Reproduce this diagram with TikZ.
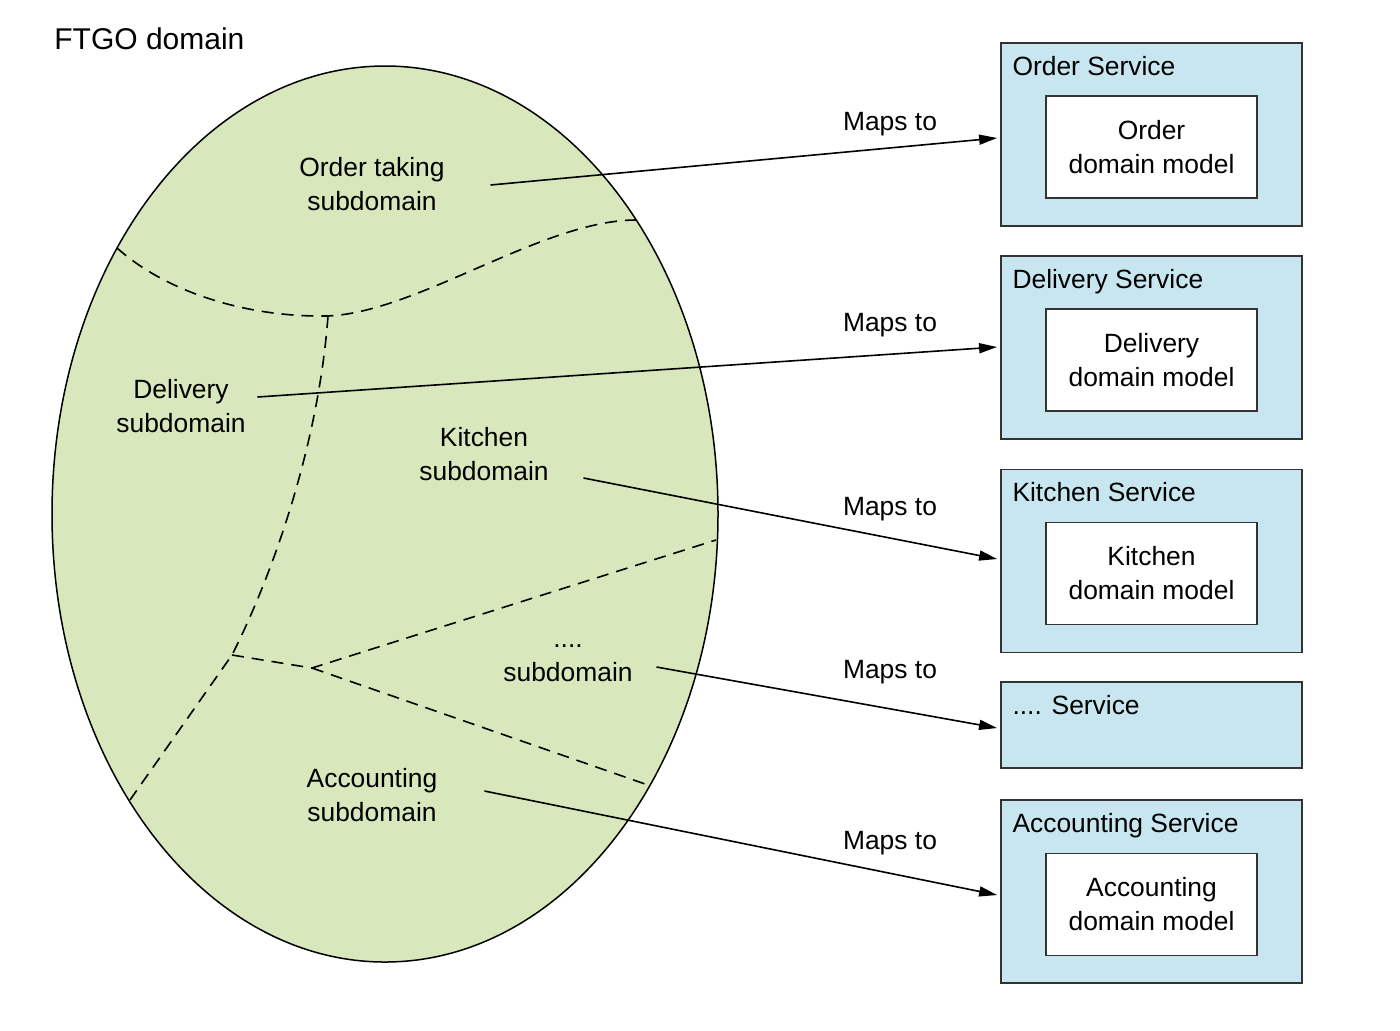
\documentclass[tikz,border=0pt]{standalone}
\usepackage{fontspec}
\setmainfont{Liberation Sans}
\usepackage{xcolor}
\usepackage{tikz}
\usetikzlibrary{shapes.geometric, arrows.meta, positioning}

\definecolor{domaingreen}{RGB}{217,231,188}
\definecolor{serviceblue}{RGB}{199,230,240}

\begin{document}
\begin{tikzpicture}[
    x=0.5pt, y=-0.5pt,
    txt/.style={font=\fontsize{13.2pt}{17pt}\selectfont, inner sep=0pt, align=center},
    svctitle/.style={txt, anchor=base west},
    domainoval/.style={draw, ellipse, fill=domaingreen, line width=0.75pt, minimum width=333pt, minimum height=448pt, inner sep=0pt},
    servicebox/.style={draw=black!80, fill=serviceblue, line width=0.9pt, minimum width=150.5pt, minimum height=91.5pt, inner sep=0pt},
    modelbox/.style={txt, draw=black!80, fill=white, line width=0.9pt, minimum width=105.5pt, minimum height=51pt},
    subborder/.style={dash pattern=on 6pt off 4pt, line width=0.8pt},
    arrow/.style={-{Triangle[length=9pt, width=5pt]}, line width=0.8pt}
]
    \useasboundingbox (0,0) rectangle (1400,1030);

    % Domain ellipse and its subdomain borders
    \node[domainoval] (domain) at (385,514) {};
    \node[svctitle, font=\fontsize{15pt}{18pt}\selectfont] (ftgo) at (54,49) {FTGO domain};

    \draw[subborder] (117,248) .. controls (170,295) and (250,316) .. (320,316) .. controls (410,318) and (540,220) .. (636,220);
    \draw[subborder] (328,316) .. controls (318,450) and (270,580) .. (232,655) -- (130,800);
    \draw[subborder] (232,655) -- (312,668) -- (716,540);
    \draw[subborder] (312,668) -- (648,785);

    % Subdomains
    \node[txt] (ordertaking) at (372,184) {Order taking\\subdomain};
    \node[txt] (delivery) at (181,406) {Delivery\\subdomain};
    \node[txt] (kitchen) at (484,454) {Kitchen\\subdomain};
    \node[txt] (other) at (568,663) {....\\subdomain};
    \node[txt] (accounting) at (372,795) {Accounting\\subdomain};

    % Services
    \node[servicebox] (ordersvc) at (1151.5,134.5) {};
    \node[svctitle] (ordertitle) at ([shift={(12,33)}]ordersvc.north west) {Order Service};
    \node[modelbox] (ordermodel) at (1151.5,147) {Order\\domain model};

    \node[servicebox] (deliverysvc) at (1151.5,347.5) {};
    \node[svctitle] (deliverytitle) at ([shift={(12,33)}]deliverysvc.north west) {Delivery Service};
    \node[modelbox] (deliverymodel) at (1151.5,360) {Delivery\\domain model};

    \node[servicebox] (kitchensvc) at (1151.5,561) {};
    \node[svctitle] (kitchentitle) at ([shift={(12,33)}]kitchensvc.north west) {Kitchen Service};
    \node[modelbox] (kitchenmodel) at (1151.5,573.5) {Kitchen\\domain model};

    \node[servicebox, minimum height=43pt] (othersvc) at (1151.5,725) {};
    \node[svctitle] (othertitle) at ([shift={(12,33)}]othersvc.north west) {.... Service};

    \node[servicebox] (accountingsvc) at (1151.5,891.5) {};
    \node[svctitle] (accountingtitle) at ([shift={(12,33)}]accountingsvc.north west) {Accounting Service};
    \node[modelbox] (accountingmodel) at (1151.5,904.5) {Accounting\\domain model};

    % Arrows
    \draw[arrow] ([shift={(45.5,1)}]ordertaking.east) -- ([shift={(-3,3.5)}]ordersvc.west);
    \draw[arrow] ([shift={(11.5,-9)}]delivery.east) -- ([shift={(-3,-0.5)}]deliverysvc.west);
    \draw[arrow] ([shift={(34.5,24)}]kitchen.east) -- ([shift={(-3,-2)}]kitchensvc.west);
    \draw[arrow] ([shift={(23.5,4)}]other.east) -- ([shift={(-3,3)}]othersvc.west);
    \draw[arrow] ([shift={(46.7,-4)}]accounting.east) -- ([shift={(-3,3.5)}]accountingsvc.west);

    \node[txt] (maps1) at (890,124) {Maps to};
    \node[txt] (maps2) at (890,325) {Maps to};
    \node[txt] (maps3) at (890,509) {Maps to};
    \node[txt] (maps4) at (890,672) {Maps to};
    \node[txt] (maps5) at (890,843) {Maps to};
\end{tikzpicture}
\end{document}
